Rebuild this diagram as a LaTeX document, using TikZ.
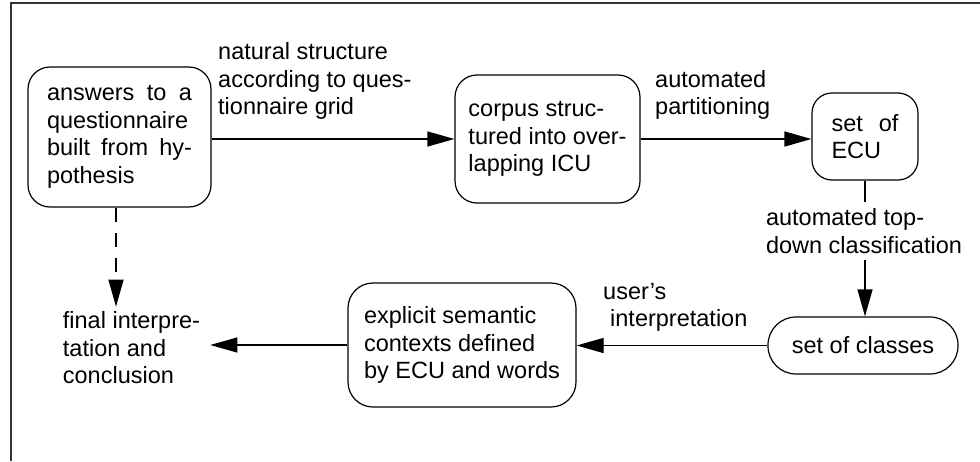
\documentclass[tikz,border=0pt]{standalone}
\usepackage{fontspec}
\setmainfont{Liberation Sans}
\usetikzlibrary{arrows.meta}
\newcommand\jline[2]{\hbox to #1{#2}}
\begin{document}
\begin{tikzpicture}[x=1pt,y=-1pt,
  every node/.style={font=\fontsize{23.5}{27.5}\selectfont},
  box/.style={draw, line width=1.2pt, rounded corners=22pt, inner sep=0pt, align=left},
  lbl/.style={align=left, inner sep=0pt},
  conn/.style={line width=1.2pt},
  arr/.style={conn, -{Triangle[length=27pt,width=15pt]}}
]
\useasboundingbox (0,0) rectangle (980,461);
% frame
\draw[line width=2pt, black!80] (11,461) -- (11,3) -- (980,3);

% boxes
\node[box, minimum width=183pt, minimum height=140pt] (A) at (119.5,137)
  {\parbox{145pt}{\jline{145pt}{answers\hfill to\hfill a}\jline{145pt}{questionnaire\hfill}\jline{145pt}{built\hfill from\hfill hy-}\jline{145pt}{pothesis\hfill}}};
\node[box, minimum width=185pt, minimum height=128pt] (B) at (547.5,139)
  {corpus struc-\\tured into over-\\lapping ICU};
\node[box, rounded corners=20pt, minimum width=106pt, minimum height=87pt] (C) at (865,136.5)
  {\parbox{67pt}{\jline{67pt}{set\hfill of}\jline{67pt}{ECU\hfill}}};
\node[box, rounded corners=28pt, minimum width=190pt, minimum height=57pt] (D) at (863,345.5)
  {set of classes};
\node[box, rounded corners=25pt, minimum width=228pt, minimum height=124pt] (E) at (462,345)
  {explicit semantic\\contexts defined\\by ECU and words};
\node[lbl, inner xsep=10pt, inner ysep=5pt] (F) at (131.5,348)
  {final interpre-\\tation and\\conclusion};

% labels
\node[lbl, anchor=west] (lab1) at (218,81)
  {natural structure\\according to ques-\\tionnaire grid};
\node[lbl, anchor=west] (lab2) at (655,95)
  {automated\\partitioning};
\node[lbl, inner ysep=6pt] (lab3) at (864,231)
  {automated top-\\down classification};
\node[lbl, anchor=west] (lab4) at (603,307.5)
  {user’s\\\hspace*{7pt}interpretation};

% connectors
\draw[arr] (A.east |- B.west) -- (B.west);
\draw[arr] (B.east) -- (B.east -| C.west);
\draw[conn] (C.south) -- (C.south |- lab3.north);
\draw[arr] (C.south |- lab3.south) -- (C.south |- D.north);
\draw[arr] (D.west) -- (D.west -| E.east);
\draw[arr] (E.west) -- (E.west -| F.east);
\draw[arr, dash pattern=on 14pt off 11pt] ([xshift=-3.5pt]A.south) -- ([xshift=-3.5pt]A.south |- F.north);
\end{tikzpicture}
\end{document}
